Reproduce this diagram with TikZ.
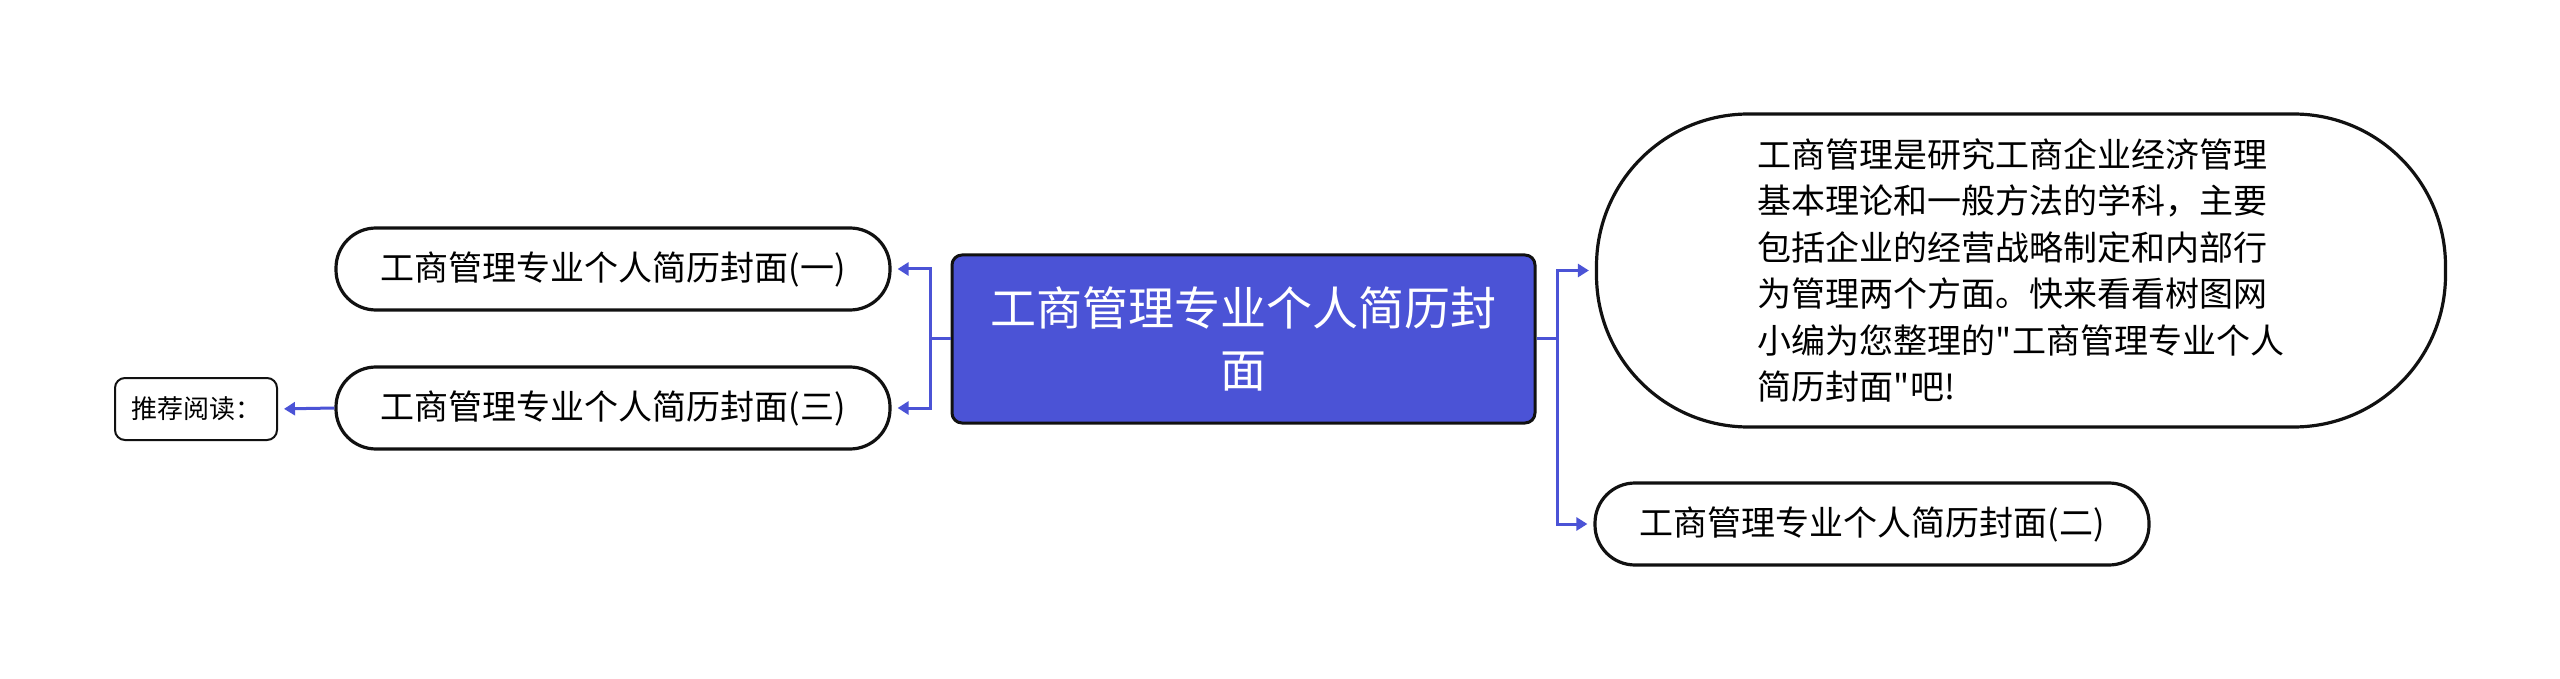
\documentclass[tikz,border=0pt]{standalone}
\usepackage{fontspec}
\usepackage{tikz}
\usetikzlibrary{arrows.meta}
\newfontfamily\cjk{Noto Sans CJK SC}
\definecolor{ruri}{HTML}{4B53D6}
\definecolor{sumi}{HTML}{111111}

\begin{document}
\begin{tikzpicture}[x=0.5pt, y=-0.5pt,
    topic/.style={draw=sumi, line width=1.5pt, fill=ruri, rounded corners=5pt, text=white, font={\cjk\fontsize{23}{31}\selectfont}, align=center, inner sep=0pt, minimum width=291.5pt, minimum height=84pt},
    pill/.style={draw=sumi, line width=1.6pt, rounded corners=20pt, font={\cjk\fontsize{17}{23}\selectfont}, inner sep=0pt, minimum width=277pt, minimum height=41pt},
    blurb/.style={draw=sumi, line width=1.6pt, rounded corners=76pt, font={\cjk\fontsize{17}{23.2}\selectfont}, align=left, inner sep=0pt, minimum width=424.5pt, minimum height=156.5pt},
    tag/.style={draw=sumi, line width=1pt, rounded corners=5pt, font={\cjk\fontsize{13}{16}\selectfont}, inner sep=0pt, minimum width=81pt, minimum height=31pt},
    link/.style={color=ruri, line width=1.5pt, -{Triangle[length=5.5pt,width=6.5pt]}, shorten >=3pt}]
    \useasboundingbox (0,0) rectangle (2560,679);

    \node[topic] (root) at (1243.5,339) {工商管理专业个人简历封\\面};

    \node[pill] (one) at (613,269) {工商管理专业个人简历封面(一)};
    \node[pill] (three) at (613,408) {工商管理专业个人简历封面(三)};
    \node[tag] (read) at (196,409) {推荐阅读：};

    \node[blurb] (intro) at (2021,270.5) {工商管理是研究工商企业经济管理\\基本理论和一般方法的学科，主要\\包括企业的经营战略制定和内部行\\为管理两个方面。快来看看树图网\\小编为您整理的"工商管理专业个人\\简历封面"吧!};
    \node[pill] (two) at (1872,524) {工商管理专业个人简历封面(二)};

    \coordinate (lfork) at (930,339);
    \coordinate (rfork) at (1557,339);

    \draw[link] (root.west) -- (lfork) |- (one.east);
    \draw[link] (lfork) |- (three.east);
    \draw[link] (three.west) -- (read.east);
    \draw[link] (root.east) -- (rfork) |- (intro.west);
    \draw[link] (rfork) |- (two.west);

\end{tikzpicture}
\end{document}
